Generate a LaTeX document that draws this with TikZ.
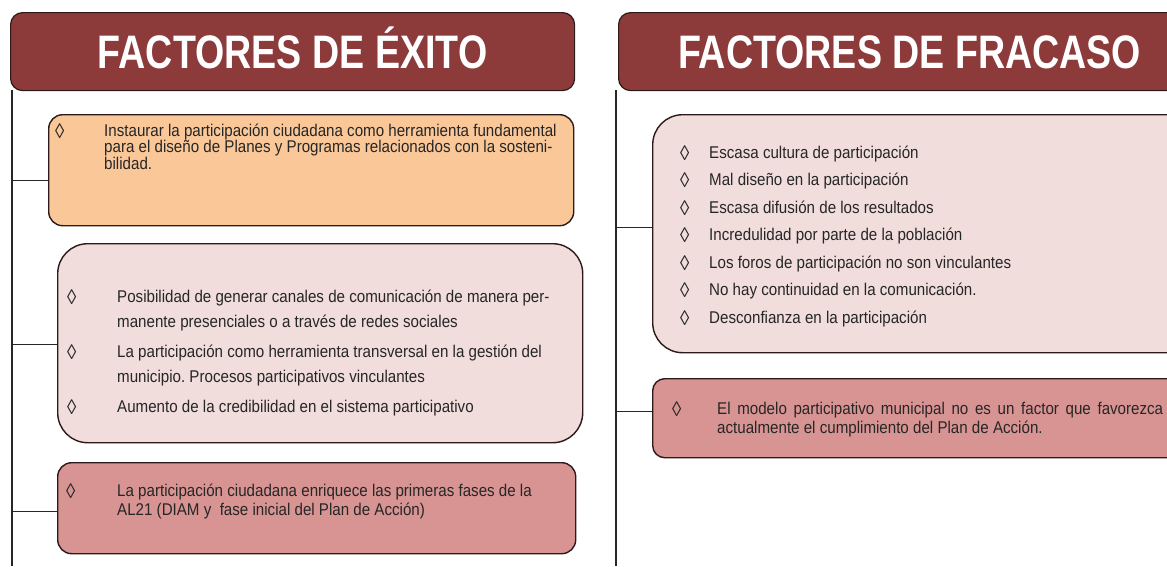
\documentclass[tikz,border=0pt]{standalone}
\usepackage{fontspec}
\setmainfont[FakeStretch=0.89]{Liberation Sans}
\newfontfamily\headfont[FakeStretch=0.8]{Liberation Sans}
\usetikzlibrary{positioning}
\frenchspacing

\definecolor{headred}{RGB}{140,58,58}
\definecolor{exitoorange}{RGB}{250,200,152}
\definecolor{lightrose}{RGB}{242,221,221}
\definecolor{darkrose}{RGB}{216,148,147}
\definecolor{edgebrown}{RGB}{45,25,25}

\newcommand{\itemmark}{\raisebox{-2pt}[0pt][0pt]{\fontsize{21}{21}\selectfont ◊}}

\tikzset{
  header/.style={draw=edgebrown, line width=1.2pt, fill=headred, rounded corners=12pt,
    anchor=north west, inner sep=0pt, text=white, text height=34pt, text depth=0pt,
    font=\headfont\bfseries\fontsize{47}{47}\selectfont},
  factorbox/.style={draw=edgebrown, line width=1.4pt, rounded corners=14pt,
    anchor=north west, inner sep=0pt},
  trunk/.style={line width=1.1pt, black!85},
  itemlist/.style={anchor=base west, inner sep=0pt, align=left, text=black!85}
}

\begin{document}
\begin{tikzpicture}[x=1pt,y=-1pt]
    \useasboundingbox (0,0) rectangle (1167,566);
    \clip (0,0) rectangle (1167,566);

    % Headers
    \node[header, minimum width=564pt, minimum height=78pt] (hexito) at (10,12) {FACTORES DE ÉXITO};
    \node[header, minimum width=582pt, minimum height=78pt] (hfracaso) at (618,12) {FACTORES DE FRACASO};

    % Trunks
    \coordinate (ltop) at (12,90);
    \coordinate (lbot) at (12,566);
    \coordinate (rtop) at (616,90);
    \coordinate (rbot) at (616,566);
    \draw[trunk] (ltop) -- (lbot);
    \draw[trunk] (rtop) -- (rbot);

    % Boxes, left
    \node[factorbox, fill=exitoorange, minimum width=525pt, minimum height=111pt] (exito1) at (48,114) {};
    \node[factorbox, fill=lightrose, rounded corners=30pt, minimum width=525pt, minimum height=199pt] (exito2) at (57,243) {};
    \node[factorbox, fill=darkrose, minimum width=518pt, minimum height=91pt] (exito3) at (57,462) {};

    % Boxes, right
    \node[factorbox, fill=lightrose, rounded corners=30pt, minimum width=560pt, minimum height=238pt] (fracaso1) at (652,114) {};
    \node[factorbox, fill=darkrose, rounded corners=12pt, minimum width=560pt, minimum height=79pt] (fracaso2) at (652,378) {};

    % Connectors
    \draw[trunk] ([yshift=-10pt]exito1.west) -- ([yshift=-10pt]exito1.west -| ltop);
    \draw[trunk] ([yshift=-1pt]exito2.west) -- ([yshift=-1pt]exito2.west -| ltop);
    \draw[trunk] ([yshift=-3pt]exito3.west) -- ([yshift=-3pt]exito3.west -| ltop);
    \draw[trunk] ([yshift=6pt]fracaso1.west) -- ([yshift=6pt]fracaso1.west -| rtop);
    \draw[trunk] ([yshift=7pt]fracaso2.west) -- ([yshift=7pt]fracaso2.west -| rtop);

    % Texts, left
    \node[itemlist, font=\fontsize{17}{15.5}\selectfont] (list1) at (55,136) {%
      \begin{tabular}[t]{@{}p{49pt}@{}l@{}}
        \itemmark & Instaurar la participación ciudadana como herramienta fundamental\\
          & para el diseño de Planes y Programas relacionados con la sosteni-\\
          & bilidad.
      \end{tabular}};
    \node[itemlist, font=\fontsize{17}{25}\selectfont] (list2) at (67,302) {%
      \begin{tabular}[t]{@{}p{50pt}@{}l@{}}
        \itemmark & Posibilidad de generar canales de comunicación de manera per-\\
          & manente presenciales o a través de redes sociales\\[5pt]
        \itemmark & La participación como herramienta transversal en la gestión del\\
          & municipio. Procesos participativos vinculantes\\[5pt]
        \itemmark & Aumento de la credibilidad en el sistema participativo
      \end{tabular}};
    \node[itemlist, font=\fontsize{17}{19.5}\selectfont] (list3) at (66,496) {%
      \begin{tabular}[t]{@{}p{51pt}@{}l@{}}
        \itemmark & La participación ciudadana enriquece las primeras fases de la\\
          & AL21 (DIAM y\ \ fase inicial del Plan de Acción)
      \end{tabular}};

    % Texts, right
    \node[itemlist, font=\fontsize{17}{27.5}\selectfont] (list4) at (680,158) {%
      \begin{tabular}[t]{@{}p{29pt}@{}l@{}}
        \itemmark & Escasa cultura de participación\\
        \itemmark & Mal diseño en la participación\\
        \itemmark & Escasa difusión de los resultados\\
        \itemmark & Incredulidad por parte de la población\\
        \itemmark & Los foros de participación no son vinculantes\\
        \itemmark & No hay continuidad en la comunicación.\\
        \itemmark & Desconfianza en la participación
      \end{tabular}};
    \node[itemlist, font=\fontsize{17}{19.5}\selectfont] (list5) at (672,414) {%
      \begin{tabular}[t]{@{}p{45pt}@{}l@{}}
        \itemmark & \makebox[446pt][s]{El modelo participativo municipal no es un factor que favorezca}\\
          & actualmente el cumplimiento del Plan de Acción.
      \end{tabular}};

\end{tikzpicture}
\end{document}
